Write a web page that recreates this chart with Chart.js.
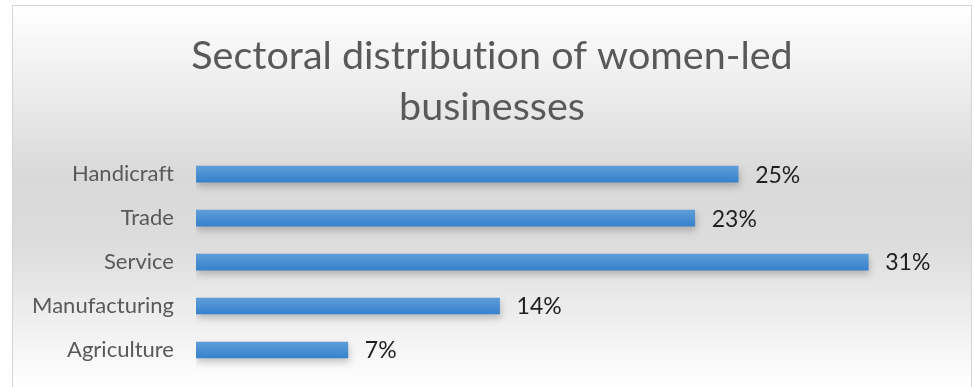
<!DOCTYPE html>
<html>
<head>
<meta charset="utf-8">
<script src="https://cdn.jsdelivr.net/npm/chart.js@4"></script>
<style>
  html, body { margin: 0; padding: 0; background: #fff; }
  #wrap { width: 974px; height: 387px; position: relative; }
</style>
</head>
<body>
<div id="wrap"><canvas id="sectorChart"></canvas></div>
<script>
const sectors = ['Handicraft', 'Trade', 'Service', 'Manufacturing', 'Agriculture'];
const sharePercent = [25, 23, 31, 14, 7];
const chartTitle = ['Sectoral distribution of women-led', 'businesses'];

const FONT = "Lato, 'Open Sans', sans-serif";

// light panel with a soft gray band through the middle
const panelBackground = {
  id: 'panelBackground',
  beforeDraw(chart) {
    const c = chart.ctx;
    const w = chart.width, h = chart.height;
    c.save();
    c.fillStyle = '#ffffff';
    c.fillRect(0, 0, w, h);
    const g = c.createLinearGradient(0, 6, 0, h);
    g.addColorStop(0, '#ffffff');
    g.addColorStop(0.45, '#d9d9d9');
    g.addColorStop(0.62, '#dcdcdc');
    g.addColorStop(1, '#ffffff');
    c.fillStyle = g;
    c.fillRect(13, 6, 958, h);
    c.strokeStyle = '#d4d4d4';
    c.lineWidth = 1;
    c.strokeRect(12.5, 5.5, 959, h + 10);
    c.restore();
    // tiny spacing keeps "ti" / "fi" from turning into ligatures
    c.letterSpacing = '0.01px';
  }
};

// drop shadow under the bars
const barShadow = {
  id: 'barShadow',
  beforeDatasetsDraw(chart) {
    const c = chart.ctx;
    c.save();
    c.shadowColor = 'rgba(0,0,0,0.22)';
    c.shadowBlur = 7;
    c.shadowOffsetX = 1;
    c.shadowOffsetY = 4;
  },
  afterDatasetsDraw(chart) {
    chart.ctx.restore();
  }
};

// percentage label just past the end of each bar
const valueLabels = {
  id: 'valueLabels',
  afterDatasetsDraw(chart) {
    const c = chart.ctx;
    const meta = chart.getDatasetMeta(0);
    c.save();
    c.font = '23px ' + FONT;
    c.fillStyle = '#1f1f1f';
    c.textAlign = 'left';
    c.textBaseline = 'middle';
    meta.data.forEach((bar, i) => {
      c.fillText(sharePercent[i] + '%', bar.x + 17, bar.y + 1);
    });
    c.restore();
  }
};

function barFill(ctx) {
  const chart = ctx.chart;
  const yScale = chart.scales && chart.scales.y;
  if (!yScale || !chart.chartArea) return '#4a8fd2';
  const yc = yScale.getPixelForValue(ctx.dataIndex);
  if (!isFinite(yc)) return '#4a8fd2';
  const g = chart.ctx.createLinearGradient(0, yc - 8, 0, yc + 8);
  g.addColorStop(0, '#5e9dd8');
  g.addColorStop(1, '#3682cd');
  return g;
}

const ctx = document.getElementById('sectorChart').getContext('2d');
const sectorChart = new Chart(ctx, {
  type: 'bar',
  data: {
    labels: sectors,
    datasets: [{
      data: sharePercent,
      backgroundColor: barFill,
      borderWidth: 0,
      barThickness: 16
    }]
  },
  options: {
    indexAxis: 'y',
    responsive: true,
    maintainAspectRatio: false,
    animation: false,
    layout: {
      padding: { top: 31, right: 19, bottom: 15, left: 29 }
    },
    plugins: {
      legend: { display: false },
      tooltip: { enabled: false },
      title: {
        display: true,
        text: chartTitle,
        color: '#595959',
        font: { family: FONT, size: 39.5, weight: 'normal', lineHeight: 1.28 },
        padding: { top: 0, bottom: 20 }
      }
    },
    scales: {
      x: {
        display: false,
        min: 0,
        max: 35
      },
      y: {
        afterFit(scale) {
          scale.width = 167;
          scale.paddingTop = 0;
          scale.paddingBottom = 0;
        },
        grid: { display: false, drawTicks: false },
        border: { display: false },
        ticks: {
          padding: 22,
          color: '#595959',
          font: { family: FONT, size: 22 }
        }
      }
    }
  },
  plugins: [panelBackground, barShadow, valueLabels]
});
</script>
</body>
</html>
